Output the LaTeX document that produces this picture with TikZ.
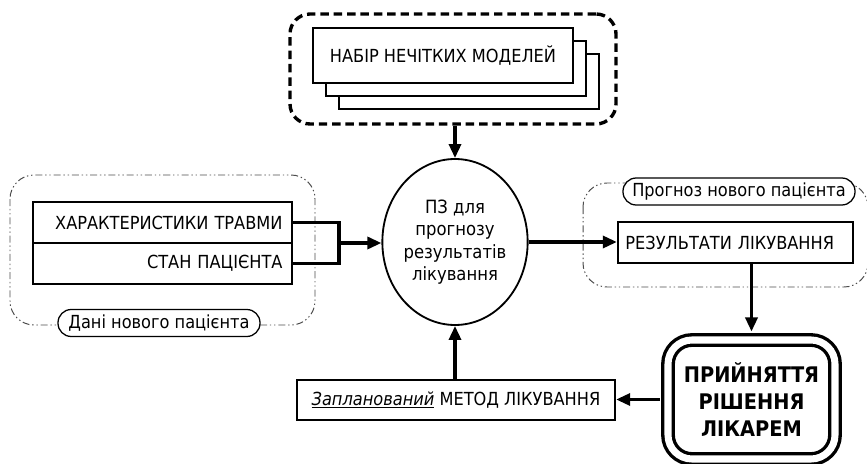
\documentclass[tikz,border=0pt]{standalone}
\usepackage{fontspec}
\setmainfont{DejaVu Sans Condensed}
\usetikzlibrary{shapes.geometric,arrows.meta}
\newcommand{\pxl}{0.025cm}

\begin{document}
\begin{tikzpicture}[x=0.025cm,y=-0.025cm,
  box/.style={draw,line width=1.6pt,fill=white,inner sep=0pt},
  conn/.style={line width=2.4pt},
  arr/.style={line width=2.4pt,-{Triangle[length=10pt,width=8.5pt]}},
  group/.style={draw=black!70,line width=0.7pt,rounded corners=0.6cm,
    dash pattern=on 5pt off 2pt on 1pt off 2pt on 1pt off 2pt},
  tag/.style={draw,fill=white,line width=0.9pt,rounded corners=0.33cm,
    minimum height=27*\pxl,inner sep=2pt},
  font=\fontsize{12.8}{15}\selectfont]
\useasboundingbox (0,0) rectangle (867,464);

% set of fuzzy models
\node[draw,line width=2.4pt,dash pattern=on 6pt off 3.5pt,rounded corners=0.5cm,
  minimum width=326*\pxl,minimum height=110*\pxl] (models) at (453,69) {};
\foreach \d in {26,13}{
\draw[box] (313+\d,28+\d) rectangle (573+\d,83+\d);
}
\node[box,minimum width=260*\pxl,minimum height=55*\pxl] (fuzzy) at (443,55.5) {НАБІР НЕЧІТКИХ МОДЕЛЕЙ};

% software
\node[draw,ellipse,line width=1.3pt,minimum width=142*\pxl,minimum height=166*\pxl,
  inner sep=0pt,align=center,font=\fontsize{13}{16}\selectfont] (pz) at (455,242)
  {ПЗ для\\прогнозу\\результатів\\лікування};

% new patient data
\draw[group] (10,175) rectangle (315,325);
\node[tag,minimum width=202*\pxl] (newdata) at (159,323) {Дані нового пацієнта};
\node[box,minimum width=259*\pxl,minimum height=41*\pxl,text width=6cm,align=right]
  (trauma) at (162.5,222.5) {ХАРАКТЕРИСТИКИ ТРАВМИ};
\node[box,minimum width=259*\pxl,minimum height=41*\pxl,text width=6cm,align=right]
  (state) at (162.5,263.5) {СТАН ПАЦІЄНТА};
\draw[conn] (trauma.east) -- ++(46,0) |- (state.east);
\coordinate (join) at (338,243);
\draw[arr] (join) -- (join -| pz.west);

% forecast
\draw[group] (583,183) rectangle (868,287);
\node[tag,minimum width=232*\pxl] (forecast) at (739,191.5) {Прогноз нового пацієнта};
\node[box,minimum width=235*\pxl,minimum height=41*\pxl,text width=5.5cm,align=left]
  (result) at (735.5,242.5) {РЕЗУЛЬТАТИ ЛІКУВАННЯ};
\draw[arr] (pz.east) -- (pz.east -| result.west);

% decision
\node[draw,double=white,double distance=5pt,line width=2.4pt,rounded corners=0.6cm,
  minimum width=167*\pxl,minimum height=119*\pxl,align=center,
  font=\bfseries\fontsize{15.3}{19.5}\selectfont] (decision) at (751.5,399.5)
  {ПРИЙНЯТТЯ\\РІШЕННЯ\\ЛІКАРЕМ};
\draw[arr,shorten >=4.8pt] (decision.north |- result.south) -- (decision.north);

% planned method
\node[box,minimum width=318*\pxl,minimum height=40*\pxl] (plan) at (456,400)
  {\underline{\textit{Запланований}} МЕТОД ЛІКУВАННЯ};
\draw[arr,shorten <=4.8pt] (decision.west) -- (decision.west -| plan.east);
\draw[arr] (pz.south |- plan.north) -- (pz.south);
\draw[arr] (pz.north |- models.south) -- (pz.north);
\end{tikzpicture}
\end{document}
